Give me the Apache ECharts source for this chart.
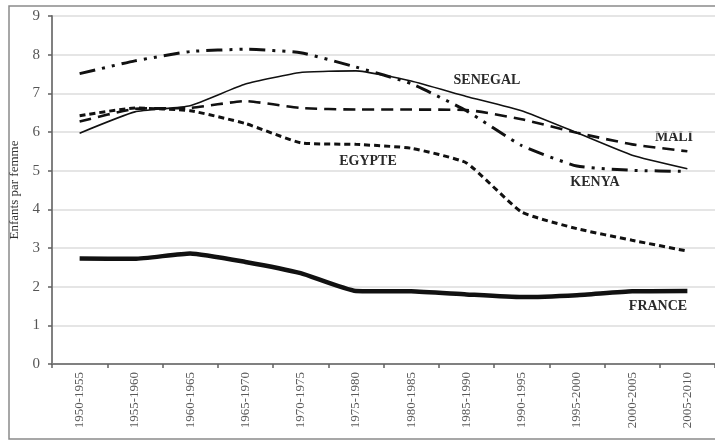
<!DOCTYPE html>
<html>
<head>
<meta charset="utf-8">
<script src="https://cdn.jsdelivr.net/npm/echarts@6/dist/echarts.min.js"></script>
<style>
  html, body { margin: 0; padding: 0; background: #fff; }
  #chart { width: 715px; height: 441px; }
</style>
</head>
<body>
<div id="chart"></div>
<script>
var periods = ['1950-1955', '1955-1960', '1960-1965', '1965-1970', '1970-1975', '1975-1980',
  '1980-1985', '1985-1990', '1990-1995', '1995-2000', '2000-2005', '2005-2010'];

var kenya   = [7.51, 7.84, 8.08, 8.14, 8.05, 7.68, 7.25, 6.55, 5.65, 5.12, 5.01, 4.98];
var senegal = [5.97, 6.52, 6.68, 7.24, 7.54, 7.58, 7.32, 6.92, 6.55, 5.98, 5.40, 5.05];
var mali    = [6.27, 6.60, 6.62, 6.80, 6.62, 6.58, 6.58, 6.57, 6.33, 5.98, 5.68, 5.50];
var egypte  = [6.42, 6.62, 6.55, 6.22, 5.72, 5.68, 5.58, 5.20, 3.93, 3.50, 3.20, 2.92];
var france  = [2.73, 2.72, 2.86, 2.64, 2.35, 1.89, 1.88, 1.80, 1.73, 1.78, 1.88, 1.89];

var serif = '"Liberation Serif", "DejaVu Serif", serif';

var chart = echarts.init(document.getElementById('chart'));

function line(name, data, width, type) {
  return {
    name: name,
    type: 'line',
    data: data,
    symbol: 'none',
    smooth: 0.15,
    animation: false,
    lineStyle: { color: '#111', width: width, type: type, cap: 'butt' }
  };
}

// étiquettes de pays posées dans le graphique
function tag(text, x, y) {
  return {
    type: 'text',
    x: x,
    y: y,
    style: {
      text: text,
      font: 'bold 14px ' + serif,
      fill: '#2a2a2a',
      align: 'center',
      verticalAlign: 'middle'
    }
  };
}

var options = {
  backgroundColor: '#fff',
  animation: false,
  grid: { left: 49.5, right: -11, top: 16, bottom: 77 },
  xAxis: {
    type: 'category',
    data: periods,
    boundaryGap: true,
    axisLine: { lineStyle: { color: '#808080', width: 2 } },
    axisTick: { show: true, length: 4, lineStyle: { color: '#606060', width: 1.5 } },
    axisLabel: {
      rotate: 90,
      margin: 8,
      color: '#5a5a5a',
      fontFamily: serif,
      fontSize: 13
    },
    splitLine: { show: false }
  },
  yAxis: {
    type: 'value',
    min: 0,
    max: 9,
    interval: 1,
    name: 'Enfants par femme',
    nameLocation: 'center',
    nameGap: 31,
    nameTextStyle: { color: '#333', fontFamily: serif, fontSize: 13 },
    axisLine: { show: true, lineStyle: { color: '#808080', width: 2 } },
    axisTick: { show: true, length: 4, lineStyle: { color: '#606060', width: 1.5 } },
    axisLabel: { color: '#555', fontFamily: serif, fontSize: 15, margin: 12 },
    splitLine: { show: true, lineStyle: { color: '#dcdcdc', width: 1.5 } }
  },
  graphic: [
    {
      type: 'rect',
      shape: { x: 9, y: 6, width: 720, height: 433 },
      style: { fill: 'none', stroke: '#8a8a8a', lineWidth: 1.5 },
      z: -1
    },
    tag('SENEGAL', 487, 80),
    tag('EGYPTE', 368, 161),
    tag('MALI', 674, 137),
    tag('KENYA', 595, 182),
    tag('FRANCE', 658, 306)
  ],
  series: [
    line('Kenya', kenya, 3, [16, 7, 3, 7, 3, 7]),
    line('Senegal', senegal, 1.6, 'solid'),
    line('Mali', mali, 2.6, [12, 7]),
    line('Egypte', egypte, 3, [6, 4]),
    line('France', france, 4.5, 'solid')
  ]
};

chart.setOption(options);
</script>
</body>
</html>
